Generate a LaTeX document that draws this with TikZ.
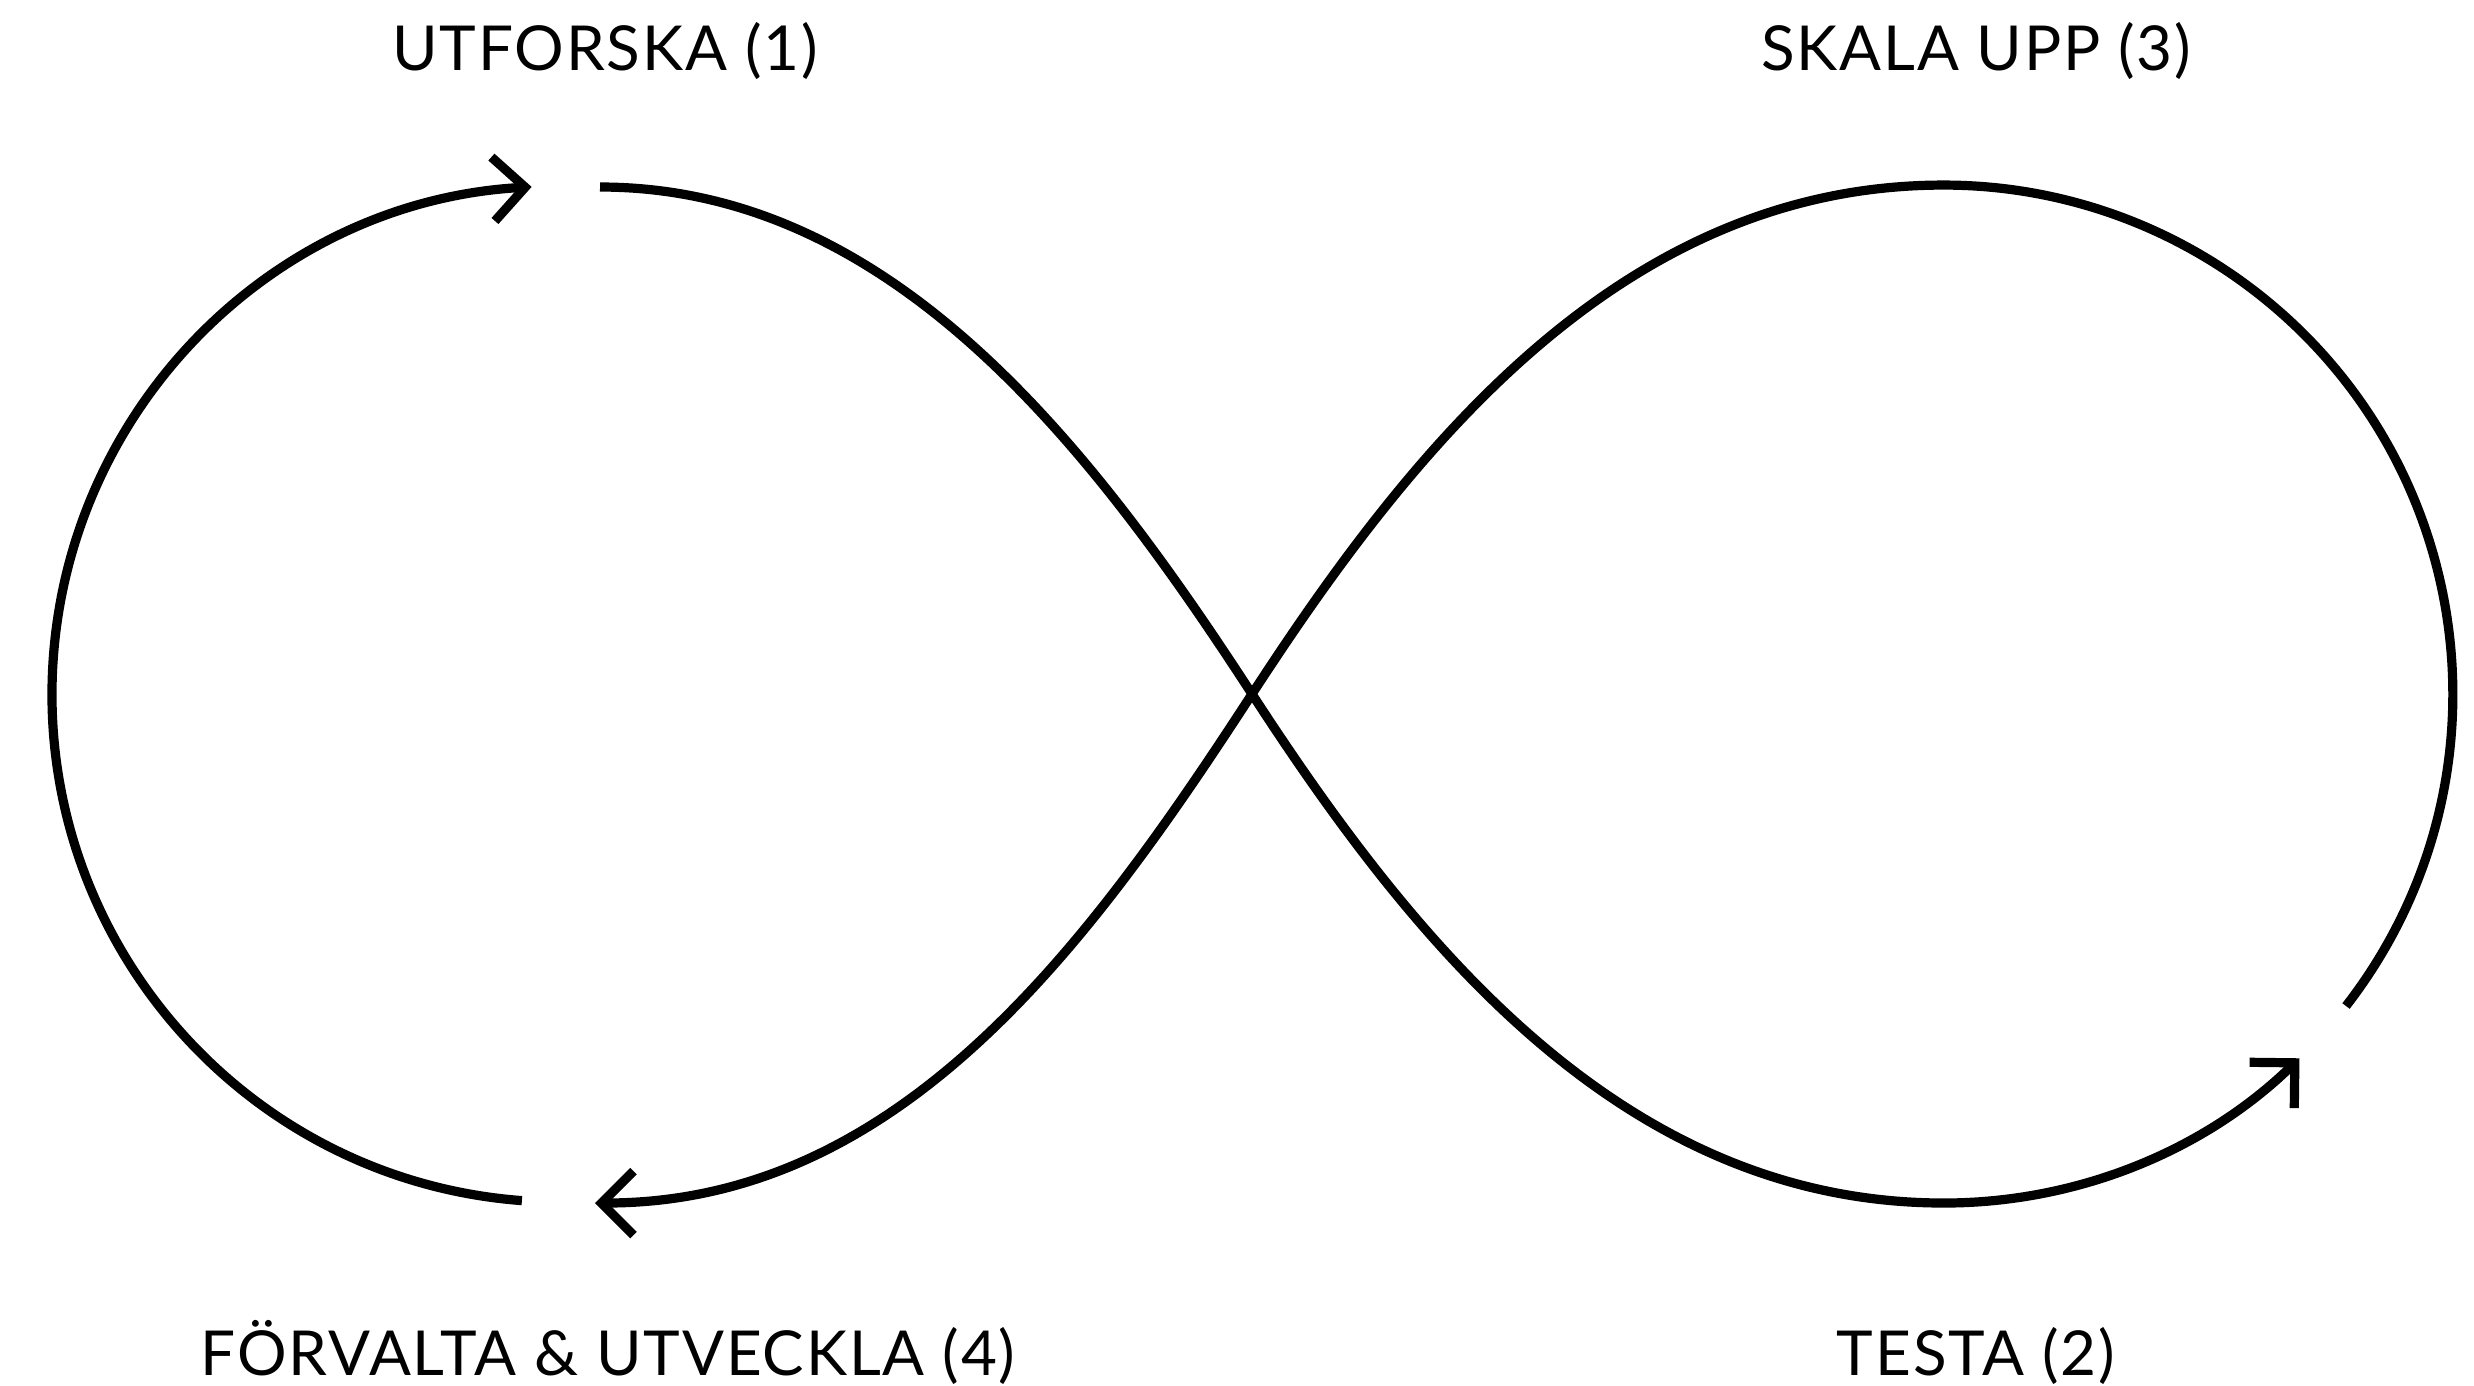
\documentclass[tikz,border=0pt]{standalone}
\usepackage{fontspec}
\setmainfont{Lato}[LetterSpace=3]
\usetikzlibrary{arrows.meta}
\begin{document}
\begin{tikzpicture}[x=0.25pt,y=-0.25pt,
  loopline/.style={line width=2.3pt,line cap=butt,black},
  tipped/.style={-{Straight Barb[length=8pt,width=16pt,line width=2.3pt]}},
  label/.style={anchor=base,inner sep=0pt,font=\fontsize{15.5}{18}\selectfont}]
\useasboundingbox (0,0) rectangle (2474,1385);
% key points
\coordinate (C) at (1252,694);
\coordinate (topL) at (600,187);
\coordinate (botR) at (1944,1203);
\coordinate (gapR) at (2346,1006);
\coordinate (topR) at (1944,185);
\coordinate (botL) at (595,1203);
\coordinate (gapL) at (521.9,1200.6);
% segment 1: top-left to bottom-right, arrow up-right
\draw[loopline,tipped] (topL) .. controls (890,187) and (1088.5,442.3) .. (C)
  .. controls (1415.5,945.7) and (1624,1203) .. (botR)
  arc[start angle=90,end angle=45.7,radius=509];
% segment 2: right side up, through crossing to bottom-left
\draw[loopline,tipped] (gapR) arc[start angle=37.8,end angle=-90,radius=509]
  .. controls (1624,185) and (1415.5,442.3) .. (C)
  .. controls (1088.5,945.7) and (900,1203) .. (botL);
% segment 3: left side up
\draw[loopline,tipped] (gapL) arc[start angle=94.3,end angle=266.8,radius=508];
% labels
\node[label] (l1) at (605,70) {UTFORSKA (1)};
\node[label] (l3) at (1976,70) {SKALA UPP (3)};
\node[label] (l4) at (608,1375) {FÖRVALTA \& UTVECKLA (4)};
\node[label] (l2) at (1976,1375) {TESTA (2)};
\end{tikzpicture}
\end{document}
